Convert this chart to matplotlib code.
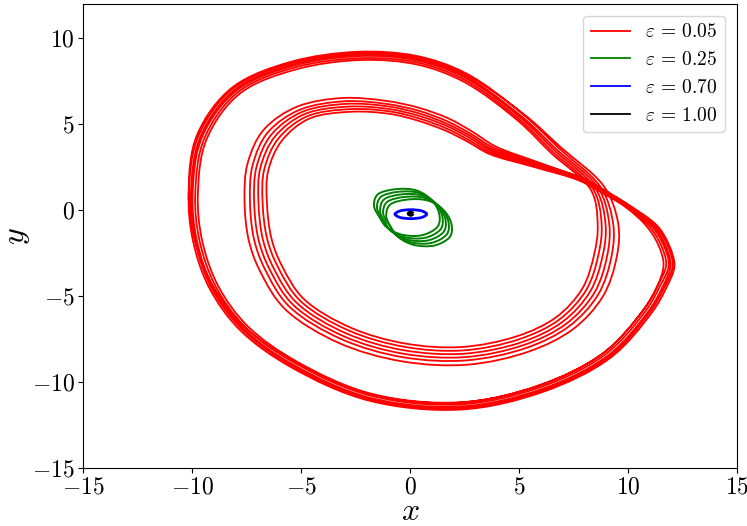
import numpy as np
import matplotlib
matplotlib.use('Agg')
from matplotlib import pyplot as plt
from matplotlib.path import Path
from matplotlib.patches import PathPatch
from matplotlib.lines import Line2D

plt.rcParams['font.family'] = 'serif'
plt.rcParams['font.serif'] = ['cmr10']
plt.rcParams['mathtext.fontset'] = 'cm'
plt.rcParams['axes.formatter.use_mathtext'] = True

# x-y projection of the trajectory for each coupling strength
eps_labels = [r'$\varepsilon \,=\, 0.05$', r'$\varepsilon \,=\, 0.25$',
              r'$\varepsilon \,=\, 0.70$', r'$\varepsilon \,=\, 1.00$']
colors = ['red', 'green', 'blue', 'black']

# eps = 0.05 : six successive turns of the double loop (inner band, then outer band)
red_x = [
    [11.63, 11.38, 10.83, 9.89, 8.60, 7.70, 5.65, 3.65, 2.64, 1.65, 0.42, -0.90, -2.69, -4.60, -5.87, -6.51,
     -6.56, -6.35, -5.87, -4.85, -2.71, -0.21, 2.37, 4.89, 6.68, 7.90, 8.46, 8.61, 8.29, 6.48, 4.97, 2.46,
     0.31, -2.24, -5.18, -7.74, -9.31, -9.73, -9.53, -8.79, -7.42, -5.16, -1.74, 2.27, 5.89, 8.83, 10.70, 11.34],
    [11.75, 11.50, 10.95, 9.95, 8.65, 7.75, 5.71, 3.71, 2.68, 1.67, 0.42, -0.94, -2.77, -4.71, -6.03, -6.69,
     -6.76, -6.55, -6.06, -5.01, -2.81, -0.25, 2.42, 5.00, 6.83, 8.08, 8.65, 8.79, 8.40, 6.56, 5.02, 2.48,
     0.31, -2.27, -5.25, -7.83, -9.41, -9.85, -9.65, -8.90, -7.52, -5.24, -1.77, 2.29, 5.95, 8.92, 10.81, 11.45],
    [11.87, 11.62, 11.07, 10.01, 8.71, 7.81, 5.78, 3.76, 2.72, 1.69, 0.41, -0.97, -2.84, -4.82, -6.18, -6.87,
     -6.95, -6.75, -6.26, -5.18, -2.92, -0.28, 2.47, 5.12, 6.99, 8.26, 8.85, 8.97, 8.51, 6.65, 5.08, 2.50,
     0.30, -2.31, -5.31, -7.91, -9.52, -9.97, -9.77, -9.02, -7.62, -5.31, -1.81, 2.30, 6.01, 9.02, 10.92, 11.57],
    [11.95, 11.70, 11.15, 10.05, 8.75, 7.85, 5.83, 3.81, 2.76, 1.70, 0.40, -1.01, -2.92, -4.93, -6.34, -7.04,
     -7.15, -6.95, -6.45, -5.34, -3.03, -0.31, 2.51, 5.23, 7.14, 8.45, 9.05, 9.14, 8.63, 6.73, 5.13, 2.52,
     0.30, -2.33, -5.35, -7.97, -9.59, -10.05, -9.85, -9.10, -7.68, -5.36, -1.83, 2.31, 6.05, 9.08, 10.99, 11.65],
    [12.05, 11.80, 11.25, 10.10, 8.80, 7.89, 5.94, 3.93, 2.85, 1.75, 0.38, -1.09, -3.09, -5.17, -6.69, -7.45,
     -7.59, -7.40, -6.88, -5.71, -3.27, -0.38, 2.62, 5.48, 7.48, 8.85, 9.49, 9.55, 8.89, 6.91, 5.22, 2.54,
     0.29, -2.36, -5.41, -8.05, -9.68, -10.15, -9.95, -9.19, -7.77, -5.42, -1.85, 2.33, 6.10, 9.15, 11.08, 11.74],
    [12.13, 11.88, 11.33, 10.14, 8.83, 7.93, 5.90, 3.87, 2.80, 1.72, 0.39, -1.05, -2.99, -5.03, -6.50, -7.22,
     -7.34, -7.15, -6.64, -5.51, -3.13, -0.34, 2.56, 5.34, 7.29, 8.63, 9.25, 9.32, 8.74, 6.83, 5.20, 2.55,
     0.29, -2.38, -5.45, -8.10, -9.75, -10.15, -9.85, -9.00, -7.53, -5.21, -1.75, 2.27, 5.89, 8.83, 10.70, 11.34],
]
red_y = [
    [-3.16, -1.99, -0.90, 0.18, 1.17, 1.76, 2.53, 3.27, 3.99, 4.62, 5.19, 5.60, 5.73, 5.34, 4.06, 2.26,
     0.38, -1.67, -3.25, -5.19, -6.84, -7.76, -7.96, -7.34, -6.25, -4.57, -2.51, -0.83, 1.20, 3.32, 5.19, 7.48,
     8.48, 8.74, 8.21, 6.85, 4.19, 0.95, -1.79, -4.43, -6.78, -8.83, -10.69, -11.18, -10.21, -8.35, -5.81, -4.44],
    [-3.18, -1.99, -0.90, 0.19, 1.18, 1.78, 2.58, 3.35, 4.10, 4.76, 5.34, 5.75, 5.88, 5.47, 4.18, 2.35,
     0.42, -1.68, -3.30, -5.30, -7.00, -7.95, -8.16, -7.51, -6.38, -4.65, -2.55, -0.82, 1.23, 3.39, 5.28, 7.60,
     8.60, 8.85, 8.32, 6.93, 4.25, 0.98, -1.80, -4.47, -6.84, -8.92, -10.80, -11.30, -10.31, -8.43, -5.86, -4.47],
    [-3.20, -2.00, -0.90, 0.20, 1.20, 1.80, 2.63, 3.44, 4.22, 4.90, 5.49, 5.89, 6.03, 5.60, 4.31, 2.43,
     0.47, -1.69, -3.36, -5.41, -7.17, -8.15, -8.35, -7.68, -6.50, -4.74, -2.58, -0.81, 1.27, 3.46, 5.37, 7.72,
     8.72, 8.97, 8.42, 7.01, 4.31, 1.00, -1.80, -4.51, -6.91, -9.02, -10.92, -11.42, -10.42, -8.51, -5.91, -4.51],
    [-3.22, -2.01, -0.90, 0.21, 1.22, 1.82, 2.67, 3.52, 4.33, 5.03, 5.64, 6.04, 6.19, 5.73, 4.43, 2.52,
     0.51, -1.70, -3.41, -5.53, -7.34, -8.35, -8.55, -7.84, -6.63, -4.82, -2.61, -0.80, 1.31, 3.53, 5.45, 7.80,
     8.80, 9.05, 8.48, 7.07, 4.35, 1.02, -1.80, -4.53, -6.96, -9.08, -11.00, -11.50, -10.49, -8.57, -5.94, -4.53],
    [-3.23, -2.01, -0.90, 0.22, 1.23, 1.84, 2.76, 3.71, 4.58, 5.35, 5.97, 6.36, 6.53, 6.03, 4.71, 2.72,
     0.61, -1.73, -3.54, -5.78, -7.72, -8.79, -8.99, -8.21, -6.92, -5.01, -2.68, -0.77, 1.40, 3.67, 5.59, 7.90,
     8.90, 9.14, 8.57, 7.14, 4.40, 1.04, -1.81, -4.56, -7.01, -9.16, -11.09, -11.60, -10.57, -8.63, -5.98, -4.56],
    [-3.25, -2.02, -0.89, 0.22, 1.24, 1.86, 2.73, 3.61, 4.44, 5.17, 5.79, 6.18, 6.34, 5.86, 4.56, 2.61,
     0.56, -1.71, -3.47, -5.64, -7.51, -8.55, -8.74, -8.01, -6.76, -4.91, -2.64, -0.79, 1.35, 3.61, 5.56, 7.98,
     8.98, 9.22, 8.64, 7.19, 4.43, 1.04, -1.80, -4.50, -6.86, -8.89, -10.73, -11.20, -10.21, -8.35, -5.81, -4.44],
]

# eps = 0.25 : small quasi-periodic loops around the origin
green_x = [
    [-1.48, -0.68, 0.27, 0.97, 1.34, 1.27, 0.57, -0.38, -1.08, -1.38, -1.65],
    [-1.34, -0.54, 0.41, 1.11, 1.48, 1.41, 0.71, -0.24, -0.94, -1.16, -1.51],
    [-1.20, -0.40, 0.55, 1.25, 1.62, 1.55, 0.85, -0.10, -0.80, -1.18, -1.37],
    [-1.06, -0.26, 0.69, 1.39, 1.76, 1.69, 0.99, 0.04, -0.66, -0.90, -1.23],
    [-0.92, -0.12, 0.83, 1.53, 1.90, 1.83, 1.13, 0.18, -0.52, -0.86, -1.09],
]
green_y = [
    [0.92, 1.22, 1.16, 0.62, -0.20, -0.95, -1.45, -1.42, -0.98, -0.45, 0.25],
    [0.77, 1.07, 1.01, 0.47, -0.35, -1.10, -1.60, -1.57, -1.13, -0.66, 0.10],
    [0.62, 0.92, 0.86, 0.32, -0.50, -1.25, -1.75, -1.72, -1.28, -0.70, -0.05],
    [0.47, 0.77, 0.71, 0.17, -0.65, -1.40, -1.90, -1.87, -1.43, -0.95, -0.20],
    [0.32, 0.62, 0.56, 0.02, -0.80, -1.55, -2.05, -2.02, -1.58, -1.02, -0.35],
]

# eps = 0.70 : limit cycle
blue_x = [0.77, 0.56, 0.04, -0.48, -0.69, -0.48, 0.04, 0.56]
blue_y = [-0.23, -0.05, 0.03, -0.05, -0.23, -0.41, -0.49, -0.41]

# eps = 1.00 : collapsed onto the fixed point
black_x = [0.13, 0.03, -0.07, 0.03]
black_y = [-0.20, -0.12, -0.20, -0.28]


def smooth_path(xs, ys, alpha=0.5):
    # closed centripetal Catmull-Rom curve through the points, as cubic Bezier segments
    pts = np.column_stack([xs, ys]).astype(float)
    ext = np.vstack([pts[-1], pts, pts[:2]])
    verts = [ext[1]]
    codes = [Path.MOVETO]
    for i in range(1, len(ext) - 2):
        p0, p1, p2, p3 = ext[i - 1], ext[i], ext[i + 1], ext[i + 2]
        t01 = np.linalg.norm(p1 - p0) ** alpha
        t12 = np.linalg.norm(p2 - p1) ** alpha
        t23 = np.linalg.norm(p3 - p2) ** alpha
        m1 = (p2 - p1) + t12 * ((p1 - p0) / t01 - (p2 - p0) / (t01 + t12))
        m2 = (p2 - p1) + t12 * ((p3 - p2) / t23 - (p3 - p1) / (t12 + t23))
        verts += [p1 + m1 / 3.0, p2 - m2 / 3.0, p2]
        codes += [Path.CURVE4] * 3
    return Path(verts, codes)


fig = plt.figure(figsize=(7.47, 5.26), dpi=100)
ax = fig.add_axes([0.1111, 0.1103, 0.8755, 0.8821])

red_path = smooth_path(np.concatenate(red_x), np.concatenate(red_y))
ax.add_patch(PathPatch(red_path, fill=False, edgecolor=colors[0], lw=1.3))
for gx, gy in zip(green_x, green_y):
    ax.add_patch(PathPatch(smooth_path(gx, gy), fill=False, edgecolor=colors[1], lw=1.4))
ax.add_patch(PathPatch(smooth_path(blue_x, blue_y), fill=False, edgecolor=colors[2], lw=2.0))
ax.add_patch(PathPatch(smooth_path(black_x, black_y), fill=False, edgecolor=colors[3], lw=2.5))

ax.set_xlim(-15, 15)
ax.set_ylim(-15, 12)
ax.set_xticks([-15, -10, -5, 0, 5, 10, 15])
ax.set_yticks([-15, -10, -5, 0, 5, 10])
ax.tick_params(labelsize=17, pad=2.5)
ax.set_xlabel(r'$x$', fontsize=23, labelpad=0)
ax.set_ylabel(r'$y$', fontsize=23, labelpad=0)

handles = [Line2D([], [], color=c, lw=1.3) for c in colors]
ax.legend(handles, eps_labels, loc='upper right', fontsize=14, borderaxespad=0.6)

fig.savefig('out.png', dpi=100)
